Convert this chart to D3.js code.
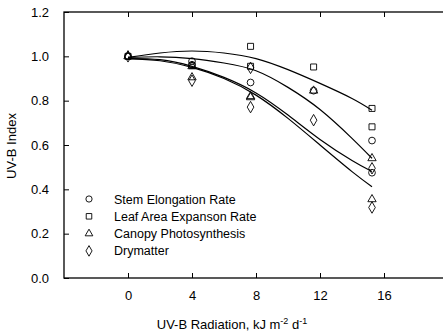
<!DOCTYPE html>
<html>
<head>
<meta charset="utf-8">
<script src="https://cdn.jsdelivr.net/npm/d3@7/dist/d3.min.js"></script>
<style>
  html, body { margin: 0; padding: 0; background: #fff; }
  svg { display: block; font-family: Arial, "Liberation Sans", sans-serif; }
</style>
</head>
<body>
<svg id="chart" width="443" height="335"></svg>
<script>
// Axis ticks
const xTicks = [0, 4, 8, 12, 16];
const yTicks = [0.0, 0.2, 0.4, 0.6, 0.8, 1.0, 1.2];

// Series names and marker shapes
const seriesNames = ["Stem Elongation Rate", "Leaf Area Expanson Rate", "Canopy Photosynthesis", "Drymatter"];
const seriesSymbols = ["circle", "square", "triangle", "diamond"];

// Observed points [UV-B dose, index]
const stemPoints = [[0, 1.0], [4, 0.978], [4, 0.962], [7.66, 0.882], [11.6, 0.845], [15.25, 0.62], [15.25, 0.475]];
const leafPoints = [[0, 1.0], [4, 0.958], [7.66, 1.045], [7.66, 0.955], [11.6, 0.952], [15.25, 0.765], [15.25, 0.682]];
const canopyPoints = [[0, 1.0], [4, 0.955], [4, 0.905], [7.66, 0.82], [7.66, 0.815], [11.6, 0.845], [15.25, 0.54], [15.25, 0.355]];
const dryPoints = [[0, 1.0], [4, 0.89], [7.66, 0.948], [7.66, 0.771], [11.6, 0.712], [15.25, 0.495], [15.25, 0.318]];

// Fitted response curves, sampled along the dose axis
const leafCurve = [[0, 0.995], [2, 1.015], [4, 1.024], [6, 1.015], [8, 0.99], [10, 0.94], [12, 0.878], [14, 0.81], [15.25, 0.757]];
const stemCurve = [[0, 0.995], [2, 0.998], [4, 0.99], [6, 0.97], [8, 0.935], [10, 0.86], [12, 0.76], [14, 0.63], [15.25, 0.54]];
const canopyCurve = [[0, 0.99], [2, 0.985], [4, 0.955], [6, 0.905], [8, 0.835], [10, 0.735], [12, 0.625], [14, 0.53], [15.25, 0.48]];
const dryCurve = [[0, 0.99], [2, 0.98], [4, 0.95], [6, 0.9], [8, 0.825], [10, 0.72], [12, 0.6], [14, 0.48], [15.25, 0.412]];

const pointSets = [stemPoints, leafPoints, canopyPoints, dryPoints];
const curves = [leafCurve, stemCurve, canopyCurve, dryCurve];

const svg = d3.select("#chart");
const plotLeft = 64, plotRight = 448, plotTop = 12, plotBottom = 278;

const x = d3.scaleLinear().domain([-4, 20]).range([plotLeft, plotRight]);
const y = d3.scaleLinear().domain([0, 1.2]).range([plotBottom, plotTop]);

const symbolType = {
  circle: d3.symbolCircle,
  square: d3.symbolSquare,
  triangle: d3.symbolTriangle,
  diamond: d3.symbolDiamond
};
const symbolSize = { circle: 36, square: 36, triangle: 30, diamond: 38 };

// Frame
svg.append("rect")
  .attr("x", plotLeft).attr("y", plotTop)
  .attr("width", plotRight - plotLeft).attr("height", plotBottom - plotTop)
  .attr("fill", "none").attr("stroke", "#000").attr("stroke-width", 1.3);

// Axes with inward ticks
const tickLen = 5;
const font = "Arial, 'Liberation Sans', sans-serif";
svg.append("g").attr("transform", `translate(0,${plotBottom})`)
  .call(d3.axisBottom(x).tickValues(xTicks).tickSizeInner(-tickLen).tickSizeOuter(0).tickPadding(tickLen + 8).tickFormat(d3.format("d")))
  .call(g => g.select(".domain").remove())
  .call(g => g.selectAll("text").attr("font-size", 13).attr("font-family", font).attr("fill", "#000"));
svg.append("g").attr("transform", `translate(0,${plotTop})`)
  .call(d3.axisTop(x).tickValues(xTicks).tickSizeInner(-tickLen).tickSizeOuter(0).tickFormat(""))
  .call(g => g.select(".domain").remove());
svg.append("g").attr("transform", `translate(${plotLeft},0)`)
  .call(d3.axisLeft(y).tickValues(yTicks).tickSizeInner(-tickLen).tickSizeOuter(0).tickPadding(tickLen + 10).tickFormat(d3.format(".1f")))
  .call(g => g.select(".domain").remove())
  .call(g => g.selectAll("text").attr("font-size", 13).attr("font-family", font).attr("fill", "#000"));
svg.append("g").attr("transform", `translate(${plotRight},0)`)
  .call(d3.axisRight(y).tickValues(yTicks.slice(1, -1)).tickSizeInner(-tickLen).tickSizeOuter(0).tickFormat(""))
  .call(g => g.select(".domain").remove());

// Curves
const line = d3.line().x(d => x(d[0])).y(d => y(d[1])).curve(d3.curveNatural);
svg.append("g").selectAll("path").data(curves).join("path")
  .attr("d", line).attr("fill", "none").attr("stroke", "#000").attr("stroke-width", 1.2);

// Markers
pointSets.forEach((pts, i) => {
  const sym = seriesSymbols[i];
  svg.append("g").selectAll("path").data(pts).join("path")
    .attr("transform", d => `translate(${x(d[0])},${y(d[1])})`)
    .attr("d", d3.symbol().type(symbolType[sym]).size(symbolSize[sym]))
    .attr("fill", "none").attr("stroke", "#000").attr("stroke-width", 0.9);
});

// Legend
const legend = svg.append("g");
seriesNames.forEach((name, i) => {
  const sym = seriesSymbols[i];
  const ly = 199 + i * 17.3;
  legend.append("path")
    .attr("transform", `translate(89,${ly})`)
    .attr("d", d3.symbol().type(symbolType[sym]).size(symbolSize[sym] * 0.85))
    .attr("fill", "none").attr("stroke", "#000").attr("stroke-width", 0.9);
  legend.append("text").attr("x", 114).attr("y", ly + 4.5)
    .attr("font-size", 12.5).text(name);
});

// Axis titles
const xt = svg.append("text").attr("x", 232).attr("y", 329).attr("text-anchor", "middle").attr("font-size", 13);
xt.append("tspan").text("UV-B Radiation, kJ m");
xt.append("tspan").attr("dy", -5).attr("font-size", 9).text("-2");
xt.append("tspan").attr("dy", 5).text(" d");
xt.append("tspan").attr("dy", -5).attr("font-size", 9).text("-1");

svg.append("text").attr("transform", "translate(16,146) rotate(-90)")
  .attr("text-anchor", "middle").attr("font-size", 13).text("UV-B Index");
</script>
</body>
</html>
